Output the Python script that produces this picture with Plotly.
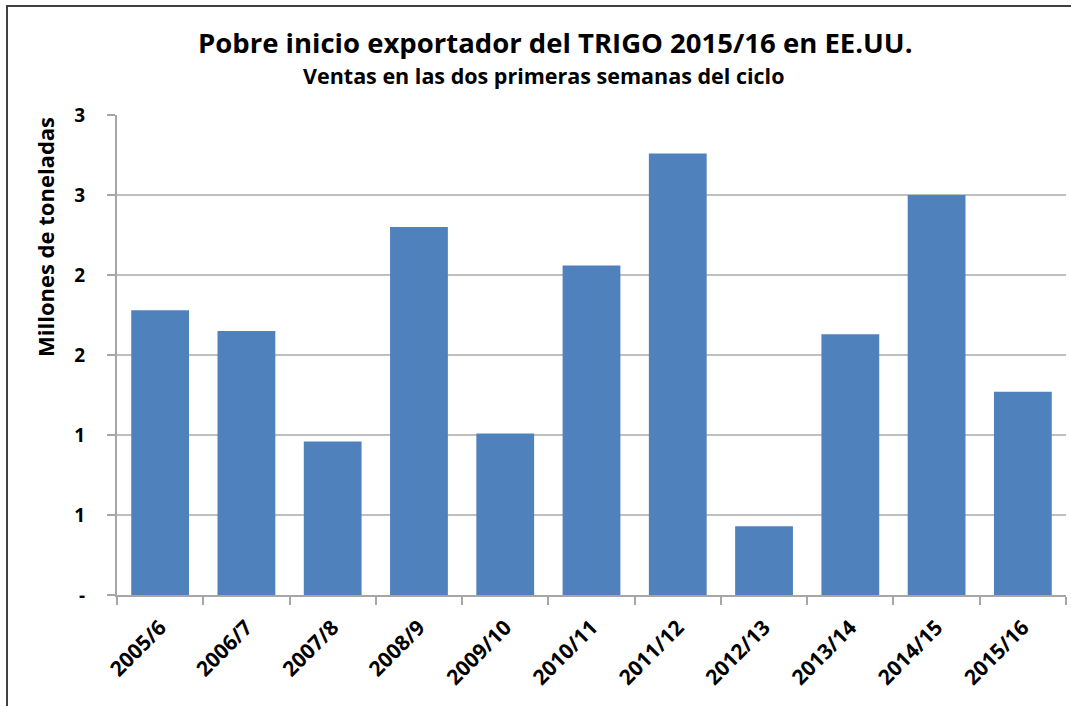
import plotly.graph_objects as go

categories = ["2005/6", "2006/7", "2007/8", "2008/9", "2009/10", "2010/11",
              "2011/12", "2012/13", "2013/14", "2014/15", "2015/16"]
ventas = [1.78, 1.65, 0.96, 2.30, 1.01, 2.06, 2.76, 0.43, 1.63, 2.50, 1.27]
ytick_vals = [0, 0.5, 1.0, 1.5, 2.0, 2.5, 3.0]
ytick_text = ["-", "1", "1", "2", "2", "3", "3"]

title = "Pobre inicio exportador del TRIGO 2015/16 en EE.UU."
subtitle = "Ventas en las dos primeras semanas del ciclo"
ytitle = "Millones de toneladas"

FONT = "Open Sans"

fig = go.Figure(go.Bar(
    x=categories, y=ventas,
    marker=dict(color="#4F81BD", line=dict(width=0)),
))

W, H = 1071, 706
L, R, T, B = 117, 5, 115, 111
pw, ph = W - L - R, H - T - B

def px(x):
    return (x - L) / pw

def py(y):
    return (H - B - y) / ph

fig.update_layout(
    width=W, height=H,
    margin=dict(l=L, r=R, t=T, b=B),
    paper_bgcolor="white", plot_bgcolor="white",
    bargap=0.33,
    showlegend=False,
    font=dict(family=FONT, color="black"),
    xaxis=dict(
        type="category",
        tickangle=-45,
        tickfont=dict(family=FONT, size=21, color="black", weight="bold"),
        showline=True, linecolor="#A6A6A6", linewidth=2,
        ticks="outside", ticklen=8, tickcolor="#A6A6A6", tickwidth=2,
        tickson="boundaries",
        ticklabelstandoff=10,
        showgrid=False,
    ),
    yaxis=dict(
        range=[0, 3],
        tickvals=ytick_vals, ticktext=ytick_text,
        tickfont=dict(family=FONT, size=19, color="black", weight="bold"),
        showline=True, linecolor="#A6A6A6", linewidth=2,
        ticks="outside", ticklen=8, tickcolor="#A6A6A6", tickwidth=2,
        ticklabelstandoff=18,
        showgrid=True, gridcolor="#BFBFBF", gridwidth=2,
        zeroline=False,
    ),
    annotations=[
        dict(text=title, x=px(555), y=py(42), xref="paper", yref="paper",
             showarrow=False, xanchor="center", yanchor="middle",
             font=dict(family=FONT, size=27.5, color="black", weight="bold")),
        dict(text=subtitle, x=px(543), y=py(75), xref="paper", yref="paper",
             showarrow=False, xanchor="center", yanchor="middle",
             font=dict(family=FONT, size=21.5, color="black", weight="bold")),
        dict(text=ytitle, x=px(45), y=py(237), xref="paper", yref="paper",
             showarrow=False, xanchor="center", yanchor="middle", textangle=-90,
             font=dict(family=FONT, size=22, color="black", weight="bold")),
    ],
    shapes=[
        dict(type="rect", xref="paper", yref="paper", layer="above",
             x0=px(7), x1=px(1090), y0=py(720), y1=py(6),
             line=dict(color="#404040", width=2), fillcolor="rgba(0,0,0,0)"),
    ],
)

fig.write_html("out.html", config={"displayModeBar": False},
               post_script="document.body.style.margin='0';")
